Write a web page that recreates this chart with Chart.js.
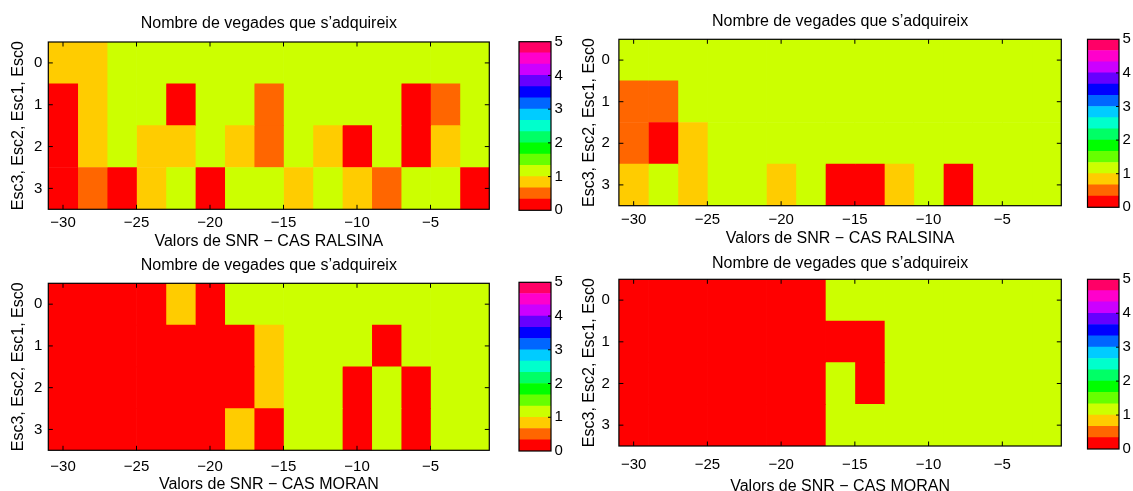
<!DOCTYPE html>
<html><head><meta charset="utf-8">
<script src="https://cdn.jsdelivr.net/npm/chart.js@4.4.0/dist/chart.umd.min.js"></script>
<style>
html,body{margin:0;padding:0;background:#fff;width:1133px;height:491px;overflow:hidden;position:relative}
canvas{position:absolute}
</style></head><body>
<script>
// ---------- DATA ----------
const snrCenters = [-30,-28,-26,-24,-22,-20,-18,-16,-14,-12,-10,-8,-6,-4,-2];
const rowLabels = ['0','1','2','3'];
const xTickValues = [-30,-25,-20,-15,-10,-5];
const colorbarTicks = [0,1,2,3,4,5];
const colorbarEdges = [0,0.333,0.667,1,1.333,1.667,2,2.333,2.667,3,3.333,3.667,4,4.333,4.667,5];
const titleText = 'Nombre de vegades que s\u2019adquireix';
const yAxisTitle = 'Esc3, Esc2, Esc1, Esc0';
const xTitleRalsina = 'Valors de SNR \u2212 CAS RALSINA';
const xTitleMoran = 'Valors de SNR \u2212 CAS MORAN';

// rows Esc0..Esc3, columns follow snrCenters
const ralsinaLeft = [
  [0.8,0.8,1,1,1,1,1,1,1,1,1,1,1,1,1],
  [0,0.8,1,1,0,1,1,0.5,1,1,1,1,0,0.5,1],
  [0,0.8,1,0.8,0.8,1,0.8,0.5,1,0.8,0,1,0,0.8,1],
  [0,0.5,0,0.8,1,0,1,1,0.8,1,0.8,0.5,1,1,0]
];
const ralsinaRight = [
  [1,1,1,1,1,1,1,1,1,1,1,1,1,1,1],
  [0.5,0.5,1,1,1,1,1,1,1,1,1,1,1,1,1],
  [0.5,0,0.8,1,1,1,1,1,1,1,1,1,1,1,1],
  [0.8,1,0.8,1,1,0.8,1,0,0,0.8,1,0,1,1,1]
];
const moranLeft = [
  [0,0,0,0,0.8,0,1,1,1,1,1,1,1,1,1],
  [0,0,0,0,0,0,0,0.8,1,1,1,0,1,1,1],
  [0,0,0,0,0,0,0,0.8,1,1,0,1,0,1,1],
  [0,0,0,0,0,0,0.8,0,1,1,0,1,0,1,1]
];
const moranRight = [
  [0,0,0,0,0,0,0,1,1,1,1,1,1,1,1],
  [0,0,0,0,0,0,0,0,0,1,1,1,1,1,1],
  [0,0,0,0,0,0,0,1,0,1,1,1,1,1,1],
  [0,0,0,0,0,0,0,1,1,1,1,1,1,1,1]
];

// ---------- STYLE ----------
const FONT = "'Liberation Sans', Arial, Helvetica, sans-serif";
Chart.defaults.font.family = FONT;
Chart.defaults.color = '#000';
const CMIN = 0, CMAX = 5, NLEV = 15;
function hsvColor(v){
  const idx = Math.max(0, Math.min(NLEV-1, Math.floor((v-CMIN)/(CMAX-CMIN)*NLEV + 1e-9)));
  return 'hsl(' + (idx*360/NLEV) + ',100%,50%)';
}
const minus = s => String(s).replace('-', '\u2212');

const framePlugin = {
  id: 'frame',
  afterDraw(chart, args, opts){
    const {ctx, chartArea:a} = chart;
    const xs = chart.scales.x, ys = chart.scales.y;
    const L = opts.tick;
    ctx.save();
    ctx.strokeStyle = '#000';
    ctx.lineWidth = 1;
    ctx.beginPath();
    if (opts.kind === 'heat') {
      xs.ticks.forEach(t => {
        const p = xs.getPixelForValue(t.value);
        ctx.moveTo(p, a.bottom); ctx.lineTo(p, a.bottom - L);
        ctx.moveTo(p, a.top); ctx.lineTo(p, a.top + L);
      });
      ys.ticks.forEach((t, i) => {
        const p = ys.getPixelForTick(i);
        ctx.moveTo(a.left, p); ctx.lineTo(a.left + L, p);
        ctx.moveTo(a.right, p); ctx.lineTo(a.right - L, p);
      });
    } else {
      ys.ticks.forEach(t => {
        if (t.value > CMIN && t.value < CMAX) {
          const p = ys.getPixelForValue(t.value);
          ctx.moveTo(a.right, p); ctx.lineTo(a.right - L, p);
        }
      });
    }
    ctx.stroke();
    ctx.lineWidth = opts.border;
    ctx.strokeRect(a.left, a.top, a.right - a.left, a.bottom - a.top);
    ctx.restore();
  }
};

function addCanvas(left, top, w, h){
  const c = document.createElement('canvas');
  c.width = w; c.height = h;
  c.style.left = left + 'px'; c.style.top = top + 'px';
  c.style.width = w + 'px'; c.style.height = h + 'px';
  document.body.appendChild(c);
  return c;
}

const noGrid = { display: false, drawTicks: false, tickLength: 0 };

function makeHeat(g, values, xTitle){
  const c = addCanvas(g.cl, g.ct, g.cw, g.ch);
  const TFS = 16, TLH = TFS*1.2, KFS = 15, KLH = KFS*1.2;
  const titlePadTop = (g.titleY - g.ct) - TLH/2;
  const titlePadBottom = (g.t - g.ct) - titlePadTop - TLH;
  const datasets = snrCenters.map((x, j) => ({
    data: rowLabels.map(() => [x - 1, x + 1]),
    backgroundColor: values.map(row => hsvColor(row[j])),
    borderWidth: 0,
    barPercentage: 1,
    categoryPercentage: 1,
    grouped: false
  }));
  new Chart(c, {
    type: 'bar',
    data: { labels: rowLabels, datasets },
    options: {
      indexAxis: 'y',
      responsive: false,
      animation: false,
      devicePixelRatio: 1,
      events: [],
      layout: { padding: { left: 0, top: 0, bottom: 0, right: g.cl + g.cw - g.r } },
      plugins: {
        legend: { display: false },
        tooltip: { enabled: false },
        title: {
          display: true, text: titleText, fullSize: false, color: '#000',
          font: { size: TFS, weight: 'normal', family: FONT },
          padding: { top: titlePadTop, bottom: titlePadBottom }
        },
        frame: { kind: 'heat', tick: 4.5, border: 1.2 }
      },
      scales: {
        x: {
          type: 'linear', min: -31, max: -1,
          grid: noGrid, border: { display: false },
          afterBuildTicks: s => { s.ticks = xTickValues.map(v => ({ value: v })); },
          ticks: { autoSkip: false, maxRotation: 0, padding: g.xTickY - g.b - KLH/2,
                   font: { size: KFS }, color: '#000', callback: v => minus(v) },
          title: { display: true, text: xTitle, color: '#000', font: { size: TFS },
                   padding: { top: 0, bottom: g.ct + g.ch - g.xTitleY - TLH/2 } },
          afterFit: s => { s.height = g.ct + g.ch - g.b; }
        },
        y: {
          type: 'category', offset: true,
          grid: noGrid, border: { display: false },
          ticks: { padding: g.yTickPad, font: { size: KFS }, color: '#000' },
          title: { display: true, text: yAxisTitle, color: '#000', font: { size: TFS },
                   padding: { top: (g.yTitleX - g.cl) - TLH/2, bottom: 0 } },
          afterFit: s => { s.width = g.l - g.cl; }
        }
      }
    },
    plugins: [framePlugin]
  });
}

function makeColorbar(g){
  const c = addCanvas(g.cl, g.ct, g.cw, g.ch);
  const datasets = colorbarEdges.slice(0, -1).map((lo, k) => ({
    data: [[lo, colorbarEdges[k+1]]],
    backgroundColor: hsvColor((lo + colorbarEdges[k+1]) / 2),
    borderWidth: 0, barPercentage: 1, categoryPercentage: 1, grouped: false
  }));
  new Chart(c, {
    type: 'bar',
    data: { labels: ['cb'], datasets },
    options: {
      responsive: false, animation: false, devicePixelRatio: 1, events: [],
      layout: { padding: { left: g.l - g.cl, top: g.t - g.ct, bottom: g.ct + g.ch - g.b, right: 0 } },
      plugins: { legend: { display: false }, tooltip: { enabled: false },
                 frame: { kind: 'cb', tick: 3, border: 1.2 } },
      scales: {
        x: { display: false },
        y: {
          type: 'linear', position: 'right', min: CMIN, max: CMAX,
          grid: noGrid, border: { display: false },
          afterBuildTicks: s => { s.ticks = colorbarTicks.map(v => ({ value: v })); },
          ticks: { padding: 3.5, font: { size: 15 }, color: '#000' },
          afterFit: s => { s.width = g.cl + g.cw - g.r; }
        }
      }
    },
    plugins: [framePlugin]
  });
}

// ---------- LAYOUT ----------
makeHeat({cl:0, ct:0, cw:510, ch:260, l:48.3, r:489.3, t:42, b:209.3,
          titleY:24, yTitleX:19, xTickY:222.7, xTitleY:241.7, yTickPad:6}, ralsinaLeft, xTitleRalsina);
makeColorbar({cl:510, ct:0, cw:56, ch:260, l:519, r:551, t:41.7, b:210.3});
makeHeat({cl:566, ct:0, cw:510, ch:260, l:618.9, r:1061.3, t:39.3, b:205.7,
          titleY:21.7, yTitleX:590, xTickY:220, xTitleY:238.3, yTickPad:9}, ralsinaRight, xTitleRalsina);
makeColorbar({cl:1076, ct:0, cw:57, ch:260, l:1087.5, r:1119, t:39.3, b:207.3});
makeHeat({cl:0, ct:250, cw:510, ch:260, l:48.3, r:489.3, t:283.3, b:450.3,
          titleY:265.7, yTitleX:19, xTickY:467, xTitleY:485, yTickPad:6}, moranLeft, xTitleMoran);
makeColorbar({cl:510, ct:250, cw:56, ch:260, l:519, r:551, t:282.3, b:451});
makeHeat({cl:566, ct:250, cw:510, ch:260, l:618.9, r:1061.3, t:279.3, b:446,
          titleY:263.3, yTitleX:590, xTickY:465, xTitleY:486.7, yTickPad:9}, moranRight, xTitleMoran);
makeColorbar({cl:1076, ct:250, cw:57, ch:260, l:1087.5, r:1119, t:279.3, b:449});
</script>
</body></html>
